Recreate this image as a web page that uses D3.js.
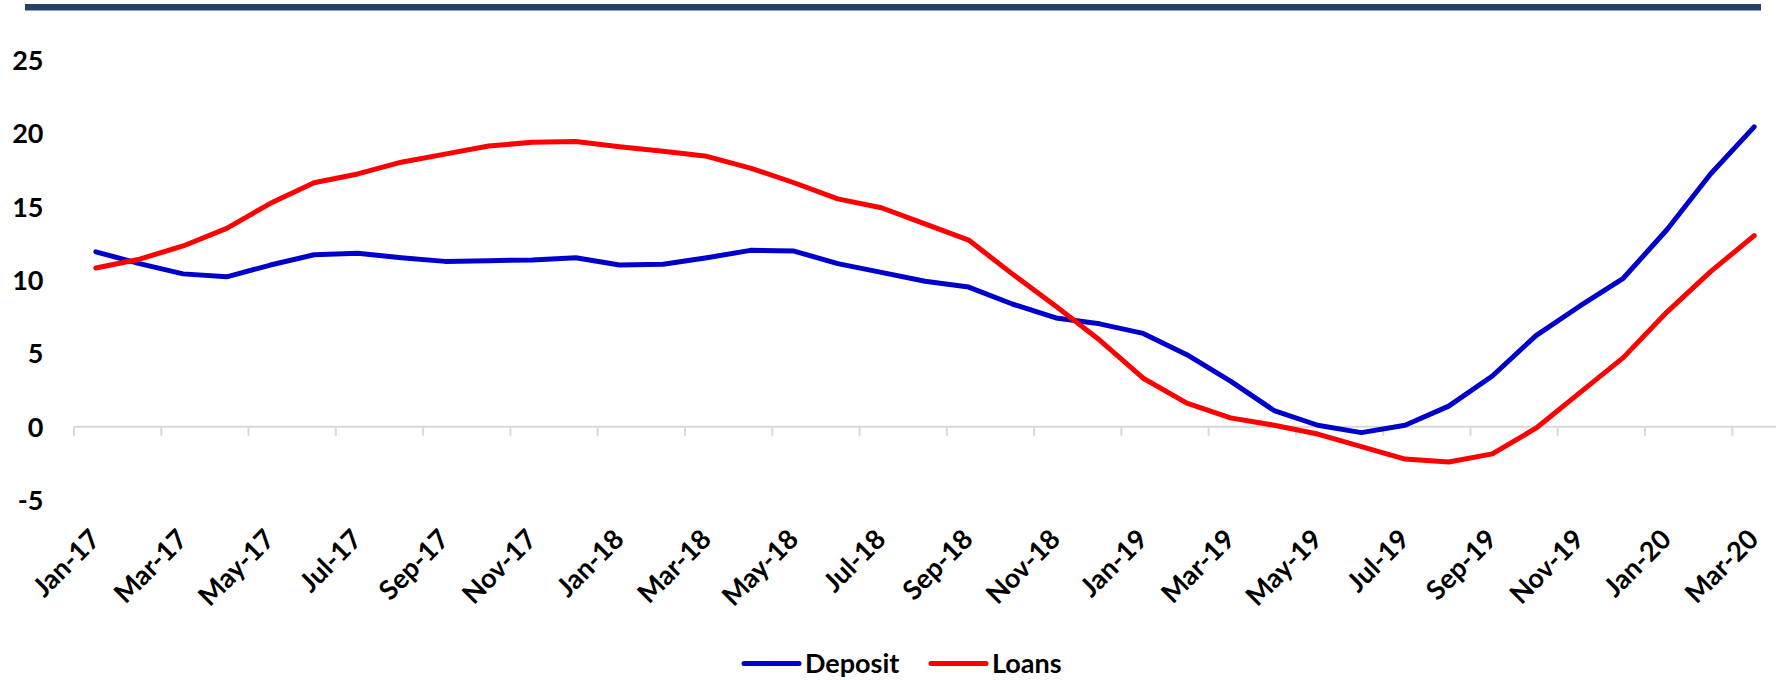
<!DOCTYPE html>
<html>
<head>
<meta charset="utf-8">
<script src="https://cdn.jsdelivr.net/npm/d3@7"></script>
<style>
  html, body { margin: 0; padding: 0; background: #ffffff; }
  svg { display: block; }
  text { font-family: Lato, "Open Sans", sans-serif; font-weight: 700; fill: #000; }
</style>
</head>
<body>
<svg id="chart" width="1785" height="680"></svg>
<script>
// Monthly growth (%) of deposits and loans
const months = [
  "Jan-17","Feb-17","Mar-17","Apr-17","May-17","Jun-17","Jul-17","Aug-17","Sep-17","Oct-17","Nov-17","Dec-17",
  "Jan-18","Feb-18","Mar-18","Apr-18","May-18","Jun-18","Jul-18","Aug-18","Sep-18","Oct-18","Nov-18","Dec-18",
  "Jan-19","Feb-19","Mar-19","Apr-19","May-19","Jun-19","Jul-19","Aug-19","Sep-19","Oct-19","Nov-19","Dec-19",
  "Jan-20","Feb-20","Mar-20"
];
const deposit = [
  11.9, 11.1, 10.4, 10.2, 11.0, 11.7, 11.8, 11.5, 11.25, 11.3, 11.35, 11.5,
  11.0, 11.05, 11.5, 12.0, 11.95, 11.1, 10.5, 9.9, 9.5, 8.35, 7.4, 7.0,
  6.35, 4.9, 3.1, 1.1, 0.1, -0.4, 0.1, 1.4, 3.45, 6.2, 8.2, 10.1,
  13.4, 17.2, 20.4
];
const loans = [
  10.8, 11.4, 12.3, 13.5, 15.2, 16.6, 17.2, 18.0, 18.55, 19.1, 19.35, 19.4,
  19.05, 18.75, 18.4, 17.6, 16.6, 15.5, 14.9, 13.8, 12.7, 10.4, 8.2, 5.9,
  3.3, 1.6, 0.6, 0.1, -0.5, -1.35, -2.2, -2.4, -1.85, -0.1, 2.3, 4.7,
  7.8, 10.55, 13.0
];
const xTickLabels = months.filter((m, i) => i % 2 === 0);
const yTicks = [-5, 0, 5, 10, 15, 20, 25];

const seriesNames = ["Deposit", "Loans"];
const seriesColors = ["#0000CC", "#FF0000"];

const svg = d3.select("#chart");

// header rule
svg.append("rect")
  .attr("x", 25).attr("y", 4)
  .attr("width", 1736).attr("height", 6.5)
  .attr("fill", "#264264");

const plotLeft = 74, plotRight = 1776;
const x = d3.scalePoint().domain(months).range([plotLeft, plotRight]).padding(0.5);
const xBand = d3.scaleBand().domain(months).range([plotLeft, plotRight]).padding(0);
const y = d3.scaleLinear().domain([-5, 25]).range([500.2, 59.3]);

// y axis labels (plain hyphen for negatives)
const yAxis = d3.axisLeft(y).tickValues(yTicks).tickSize(0).tickPadding(0).tickFormat(d => String(d));
const yG = svg.append("g").attr("transform", "translate(43.5,0)").call(yAxis);
yG.select(".domain").remove();
yG.selectAll("text")
  .attr("font-family", "Lato, 'Open Sans', sans-serif")
  .attr("font-weight", 700)
  .attr("font-size", 27)
  .attr("fill", "#000")
  .attr("dy", "0.36em");

// category axis along zero
const axisG = svg.append("g");
axisG.append("line")
  .attr("x1", plotLeft).attr("x2", plotRight)
  .attr("y1", y(0)).attr("y2", y(0))
  .attr("stroke", "#D9D9D9").attr("stroke-width", 2);
axisG.selectAll("line.tick")
  .data(xTickLabels)
  .join("line")
  .attr("class", "tick")
  .attr("x1", d => xBand(d)).attr("x2", d => xBand(d))
  .attr("y1", y(0)).attr("y2", y(0) + 9)
  .attr("stroke", "#D9D9D9").attr("stroke-width", 2);

axisG.selectAll("text.xlab")
  .data(xTickLabels)
  .join("text")
  .attr("class", "xlab")
  .attr("text-anchor", "end")
  .attr("font-size", 27)
  .attr("transform", d => `translate(${x(d) + 6},541) rotate(-45)`)
  .text(d => d);

// series lines
const line = d3.line()
  .x((d, i) => x(months[i]))
  .y(d => y(d));

[deposit, loans].forEach((vals, k) => {
  svg.append("path")
    .datum(vals)
    .attr("d", line)
    .attr("fill", "none")
    .attr("stroke", seriesColors[k])
    .attr("stroke-width", 5)
    .attr("stroke-linejoin", "round")
    .attr("stroke-linecap", "round");
});

// legend
const legendItems = [
  { name: seriesNames[0], color: seriesColors[0], x: 744 },
  { name: seriesNames[1], color: seriesColors[1], x: 931 }
];
const lg = svg.append("g");
legendItems.forEach(it => {
  lg.append("line")
    .attr("x1", it.x).attr("x2", it.x + 55)
    .attr("y1", 663.5).attr("y2", 663.5)
    .attr("stroke", it.color).attr("stroke-width", 5)
    .attr("stroke-linecap", "round");
  lg.append("text")
    .attr("x", it.x + 61).attr("y", 673)
    .attr("font-size", 27)
    .text(it.name);
});
</script>
</body>
</html>
